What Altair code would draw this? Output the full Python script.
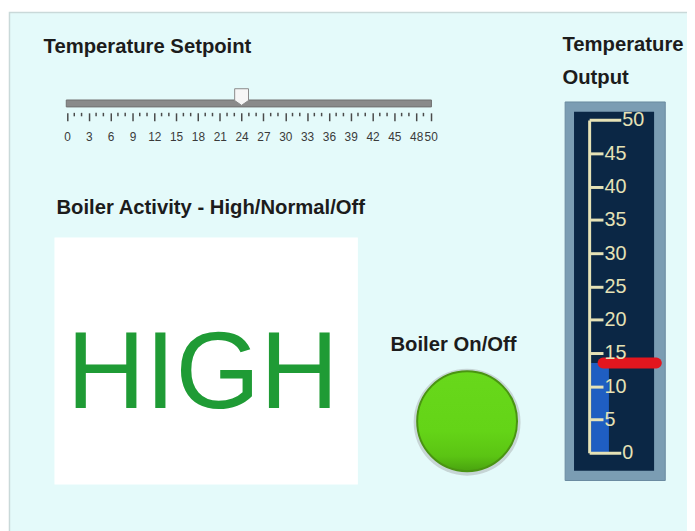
import altair as alt
import pandas as pd

# ---- values ----
setpoint = [24]                       # Temperature Setpoint slider value
temperature = [13.5]                  # Temperature Output thermometer value
slider_span = [0, 50]
slider_major = [0, 3, 6, 9, 12, 15, 18, 21, 24, 27, 30, 33, 36, 39, 42, 45, 48, 50]
slider_minor = [1, 2, 4, 5, 7, 8, 10, 11, 13, 14, 16, 17, 19, 20, 22, 23, 25, 26,
                28, 29, 31, 32, 34, 35, 37, 38, 40, 41, 43, 44, 46, 47, 49]
therm_ticks = [0, 5, 10, 15, 20, 25, 30, 35, 40, 45, 50]
activity = ["HIGH"]
boiler_on = [True]
titles = ["Temperature Setpoint", "Boiler Activity - High/Normal/Off",
          "Boiler On/Off", "Temperature", "Output"]

W, H = 687, 523
FONT = "Liberation Sans"

xs = alt.Scale(domain=[0, 50], range=[59.7, 427.7], nice=False, zero=False)
ys = alt.Scale(domain=[0, 50], range=[447, 110.3], nice=False, zero=False)

one = pd.DataFrame({"k": [0]})

# panel border
border = alt.Chart(one).mark_rect(fill="#e4fafa", stroke="#c9d9d9", strokeWidth=1.5).encode(
    x=alt.value(1.5), x2=alt.value(W + 4), y=alt.value(1.5), y2=alt.value(H + 4))

# white indicator box
white_box = alt.Chart(one).mark_rect(fill="#ffffff").encode(
    x=alt.value(47), x2=alt.value(354), y=alt.value(229), y2=alt.value(479))

# thermometer frame
frame = alt.Chart(one).mark_rect(fill="#7b9db3", stroke="#6a8aa0", strokeWidth=1).encode(
    x=alt.value(563.7), x2=alt.value(665), y=alt.value(92), y2=alt.value(475))
inner = alt.Chart(one).mark_rect(fill="#0b2745").encode(
    x=alt.value(572.7), x2=alt.value(653.7), y=alt.value(102), y2=alt.value(465))

# thermometer fill + axis
temp_df = pd.DataFrame({"t": temperature, "base": [0]})
END_TEST = "datum.value == 0 || datum.value == 50"
y_axis = alt.Axis(
    values=therm_ticks, orient="right", offset=588 - W, title=None, grid=False,
    domainColor="#e6e2b6", domainWidth=3, tickColor="#e6e2b6", tickWidth=3,
    tickSize={"condition": {"test": END_TEST, "value": 32}, "value": 14},
    labelColor="#e6e2b6", labelFontSize=20, labelFont=FONT, labelPadding=1,
    labelBaseline="middle", zindex=1)
fill = alt.Chart(temp_df).mark_rect(fill="#1f5ec2").encode(
    x=alt.value(590), x2=alt.value(608),
    y=alt.Y("t:Q", scale=ys, axis=y_axis),
    y2="base:Q")

marker = alt.Chart(temp_df).mark_rule(color="#e3161e", strokeWidth=11, strokeCap="round").encode(
    y=alt.Y("t:Q", scale=ys, axis=y_axis), x=alt.value(602), x2=alt.value(656))

# slider
x_axis = alt.Axis(
    values=slider_major, orient="bottom", offset=103 - H, title=None, grid=False,
    domain=False, tickColor="#4a4a4a", tickWidth=1.5, tickSize=8,
    labelColor="#3a3a3a", labelFontSize=12, labelFont=FONT, labelPadding=11,
    labelOverlap=False, labelFlush=False, zindex=1)

span_df = pd.DataFrame({"lo": [slider_span[0] - 0.1], "hi": [slider_span[1] + 0.1]})
track = alt.Chart(span_df).mark_rect(fill="#8a8a8a", stroke="#707070", strokeWidth=1).encode(
    x=alt.X("lo:Q", scale=xs, axis=x_axis), x2="hi:Q",
    y=alt.value(90), y2=alt.value(97))

minor_df = pd.DataFrame({"v": slider_minor})
minor = alt.Chart(minor_df).mark_rule(color="#4a4a4a", strokeWidth=1.5).encode(
    x=alt.X("v:Q", scale=xs, axis=x_axis), y=alt.value(103), y2=alt.value(106.5))

thumb_path = "M -0.5 -0.6 L 0.5 -0.6 L 0.5 0.25 L 0 0.6 L -0.5 0.25 Z"
thumb = alt.Chart(pd.DataFrame({"v": setpoint})).mark_point(
    shape=thumb_path, filled=True, fill="#f6f6f6", stroke="#8a8a8a", strokeWidth=1,
    size=784, opacity=1).encode(
    x=alt.X("v:Q", scale=xs, axis=x_axis), y=alt.value(87))

# HIGH text
high = alt.Chart(pd.DataFrame({"s": activity})).mark_text(
    fontSize=110, font=FONT, color="#1f9b35", align="center", baseline="alphabetic").encode(
    x=alt.value(197), y=alt.value(402), text="s:N")

# LED
led_df = pd.DataFrame({"on": boiler_on})
led_shadow = alt.Chart(led_df).mark_circle(color="#8f8f8f", opacity=0.35, size=3.1416 * 61 ** 2).encode(
    x=alt.value(464.5), y=alt.value(416))
led = alt.Chart(led_df).mark_circle(
    fill=alt.Gradient(gradient="linear", x1=0, y1=0, x2=0, y2=1, stops=[
        alt.GradientStop(offset=0, color="#68d81b"),
        alt.GradientStop(offset=0.6, color="#64d417"),
        alt.GradientStop(offset=0.85, color="#5bc413"),
        alt.GradientStop(offset=1, color="#49a30f")]),
    stroke="#4a9412", strokeWidth=2, opacity=1, size=3.1416 * 57 ** 2).encode(
    x=alt.value(464.5), y=alt.value(415))

# titles
def title(txt, x, y):
    return alt.Chart(one).mark_text(
        text=txt, font=FONT, fontSize=20.5, fontWeight="bold", color="#1c1c1c",
        align="left", baseline="alphabetic").encode(
        x=alt.value(x), y=alt.value(y))

t1 = title(titles[0], 36, 42.5)
t2 = title(titles[1], 49, 205)
t3 = title(titles[2], 387, 344)
t4 = title(titles[3], 561, 40)
t5 = title(titles[4], 561, 74)

chart = alt.layer(
    border, white_box, frame, inner, fill, marker, track, minor, thumb,
    high, led_shadow, led, t1, t2, t3, t4, t5
).properties(
    width=W, height=H, padding=0, autosize=alt.AutoSizeParams(type="none"),
    background="#ffffff"
).configure_view(stroke=None)

chart.save("out.html", embed_options={"renderer": "svg", "actions": False})
